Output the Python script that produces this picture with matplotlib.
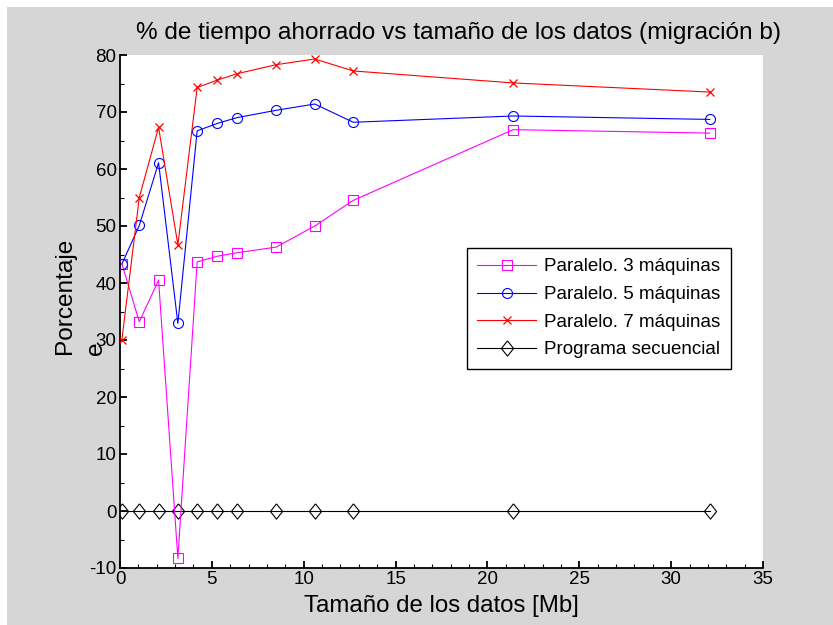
import matplotlib
matplotlib.use("Agg")
import matplotlib.pyplot as plt
from matplotlib.patches import Rectangle
from matplotlib.ticker import MultipleLocator

plt.rcParams["font.family"] = ["Liberation Sans", "DejaVu Sans"]
plt.rcParams["axes.unicode_minus"] = False

# Data sizes in Mb
sizes = [0.1, 1.05, 2.1, 3.15, 4.2, 5.3, 6.35, 8.5, 10.6, 12.7, 21.4, 32.1]

# Percentage of time saved for each configuration
par3 = [43.4, 33.2, 40.5, -8.3, 43.7, 44.7, 45.3, 46.3, 50.0, 54.5, 66.9, 66.3]
par5 = [43.3, 50.1, 61.1, 32.9, 66.7, 68.0, 69.0, 70.3, 71.4, 68.2, 69.3, 68.7]
par7 = [30.0, 55.0, 67.3, 46.7, 74.3, 75.6, 76.7, 78.3, 79.3, 77.2, 75.1, 73.5]
seq = [0, 0, 0, 0, 0, 0, 0, 0, 0, 0, 0, 0]

labels = ["Paralelo. 3 máquinas", "Paralelo. 5 máquinas",
          "Paralelo. 7 máquinas", "Programa secuencial"]

W, H = 833, 625
fig = plt.figure(figsize=(W / 100, H / 100), dpi=100, facecolor="white")
fig.patches.append(Rectangle((7 / W, 0), 1, 1 - 7 / H, transform=fig.transFigure,
                             facecolor="#d6d6d6", edgecolor="none", zorder=-10))

ax = fig.add_axes([120 / W, 1 - 568 / H, (763 - 120) / W, (568 - 55) / H])
ax.set_facecolor("white")

diamond = [(0, 1), (0.8, 0), (0, -1), (-0.8, 0), (0, 1)]
lw = 0.8
ax.plot(sizes, par3, color="#ff00ff", lw=lw, marker="s", ms=6.7, mfc="none",
        mec="#ff00ff", mew=0.8, label=labels[0], zorder=3)
ax.plot(sizes, par5, color="#0000ff", lw=lw, marker="o", ms=7.2, mfc="none",
        mec="#0000ff", mew=0.8, label=labels[1], zorder=3)
ax.plot(sizes, par7, color="#ff0000", lw=lw, marker="x", ms=5.5,
        mec="#ff0000", mew=0.9, label=labels[2], zorder=3)
ax.plot(sizes, seq, color="black", lw=lw, marker=diamond, ms=11, mfc="none",
        mec="black", mew=0.8, label=labels[3], zorder=2)

ax.set_xlim(0, 35)
ax.set_ylim(-10, 80)
ax.xaxis.set_major_locator(MultipleLocator(5))
ax.xaxis.set_minor_locator(MultipleLocator(1))
ax.yaxis.set_major_locator(MultipleLocator(10))
ax.yaxis.set_minor_locator(MultipleLocator(5))

for side in ("top", "right"):
    ax.spines[side].set_visible(False)
for side in ("left", "bottom"):
    ax.spines[side].set_linewidth(1.3)
    ax.spines[side].set_color("black")

ax.tick_params(which="major", direction="in", length=5, width=1.3,
               labelsize=13.5, pad=2.5, colors="black")
ax.tick_params(which="minor", direction="in", length=3, width=0.8)

fig.text(458 / W, 1 - 33 / H, "% de tiempo ahorrado vs tamaño de los datos (migración b)",
         ha="center", va="center", fontsize=17.6)
fig.text(441 / W, 1 - 606 / H, "Tamaño de los datos [Mb]",
         ha="center", va="center", fontsize=17.3)
fig.text(65 / W, 1 - 296 / H, "Porcentaje", rotation=90,
         ha="center", va="center", fontsize=17.6)
fig.text(96 / W, 1 - 348 / H, "e", rotation=90,
         ha="center", va="center", fontsize=17.6)

leg = ax.legend(loc="upper left", bbox_to_anchor=(467 / W, 1 - 248 / H),
                bbox_transform=fig.transFigure, fontsize=13.5, frameon=True,
                fancybox=False, shadow=False, framealpha=1, edgecolor="black",
                handlelength=3.15, handletextpad=0.43, labelspacing=0.56,
                borderpad=0.55, borderaxespad=0, numpoints=1)
leg.get_frame().set_linewidth(1.0)

fig.savefig("out.png", dpi=100, facecolor=fig.get_facecolor())
